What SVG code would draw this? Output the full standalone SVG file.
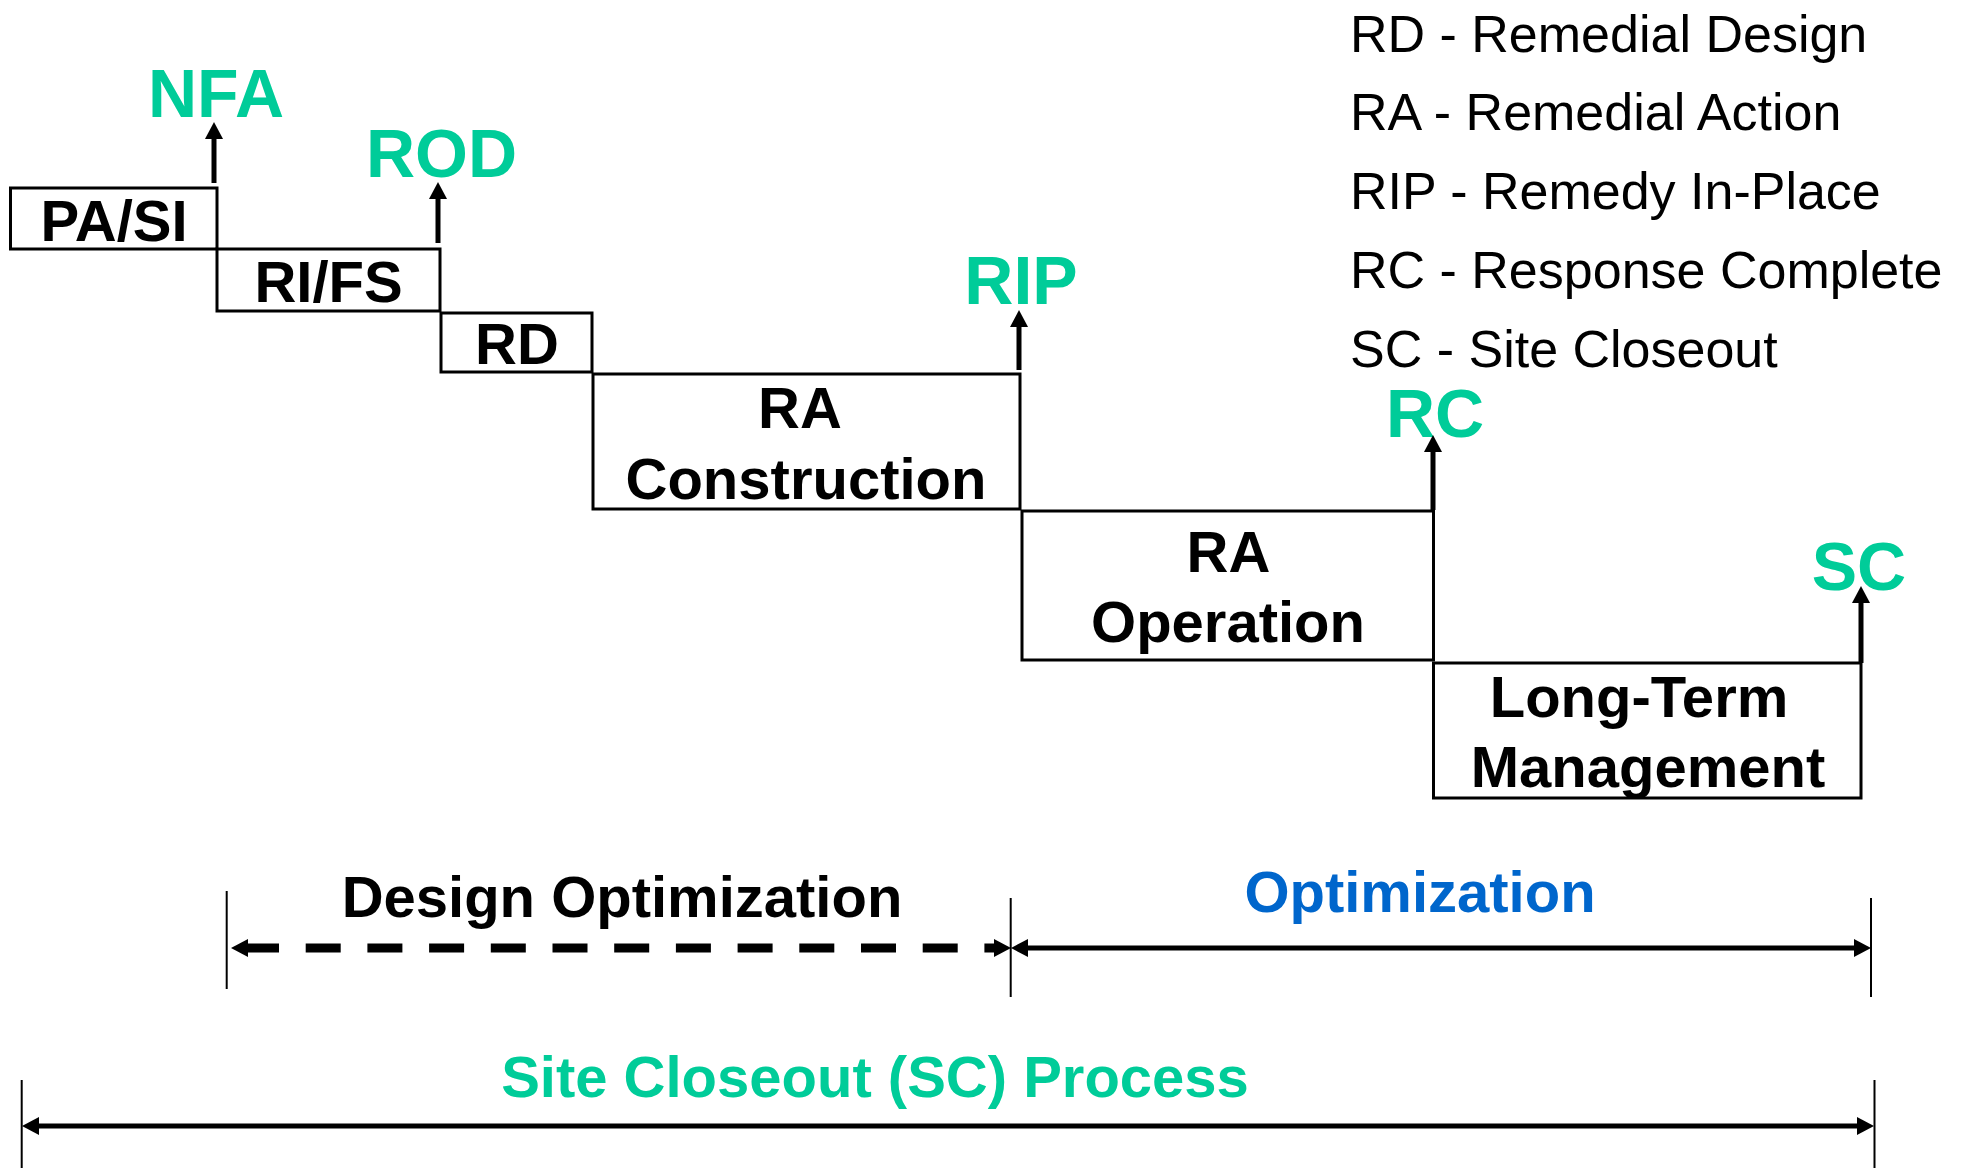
<svg xmlns="http://www.w3.org/2000/svg" width="1969" height="1168" viewBox="0 0 1969 1168">
<style>
.box{fill:#ffffff;stroke:#000000;stroke-width:3}
.lbl{font-family:"Liberation Sans",Arial,sans-serif;font-weight:bold;font-size:58px;fill:#000000;text-anchor:middle}
.ms{font-family:"Liberation Sans",Arial,sans-serif;font-weight:bold;font-size:68px;fill:#00CC99;text-anchor:middle}
.leg{font-family:"Liberation Sans",Arial,sans-serif;font-size:52px;fill:#000000}
.arr{fill:none;stroke:#000000;stroke-width:5}
.tick{fill:none;stroke:#000000;stroke-width:2}
</style>
<defs>
<marker id="ah" markerUnits="userSpaceOnUse" viewBox="0 0 17 18" markerWidth="17" markerHeight="18" refX="0" refY="9" orient="auto-start-reverse">
<path d="M0,0 L17,9 L0,18 z" fill="#000000"/>
</marker>
</defs>
<rect width="1969" height="1168" fill="#ffffff"/>

<g id="legend">
<text class="leg" x="1350" y="52">RD - Remedial Design</text>
<text class="leg" x="1350" y="130">RA - Remedial Action</text>
<text class="leg" x="1350" y="209">RIP - Remedy In-Place</text>
<text class="leg" x="1350" y="288">RC - Response Complete</text>
<text class="leg" x="1350" y="367">SC - Site Closeout</text>
</g>

<g id="node-pasi">
<rect class="box" x="10.5" y="188" width="206.5" height="61"/>
<text class="lbl" x="114" y="241">PA/SI</text>
</g>
<g id="node-rifs">
<rect class="box" x="217" y="249" width="223" height="62"/>
<text class="lbl" x="328.5" y="302">RI/FS</text>
</g>
<g id="node-rd">
<rect class="box" x="441" y="313" width="151" height="59"/>
<text class="lbl" x="517" y="364">RD</text>
</g>
<g id="node-ra-construction">
<rect class="box" x="593" y="374" width="427" height="135"/>
<text class="lbl" x="800" y="428">RA</text>
<text class="lbl" x="806" y="499" textLength="361" lengthAdjust="spacingAndGlyphs">Construction</text>
</g>
<g id="node-ra-operation">
<rect class="box" x="1022" y="511" width="411.5" height="149"/>
<text class="lbl" x="1228.5" y="572">RA</text>
<text class="lbl" x="1228" y="642">Operation</text>
</g>
<g id="node-ltm">
<rect class="box" x="1433.5" y="663" width="427.5" height="135"/>
<text class="lbl" x="1639" y="717">Long-Term</text>
<text class="lbl" x="1648" y="787">Management</text>
</g>

<g id="milestone-nfa"><text class="ms" x="216" y="117">NFA</text></g>
<g id="milestone-rod"><text class="ms" x="441.5" y="177">ROD</text></g>
<g id="milestone-rip"><text class="ms" x="1021" y="304">RIP</text></g>
<g id="milestone-rc"><text class="ms" x="1435" y="437">RC</text></g>
<g id="milestone-sc"><text class="ms" x="1859" y="590">SC</text></g>

<g id="labels-bottom">
<text class="lbl" x="622" y="917">Design Optimization</text>
<text class="lbl" x="1420" y="912" style="fill:#0066CC">Optimization</text>
<text class="lbl" x="875" y="1097" style="fill:#00CC99">Site Closeout (SC) Process</text>
</g>

<g id="connectors">
<path class="arr" d="M214,183 L214,139" marker-end="url(#ah)"/>
<path class="arr" d="M438,243 L438,199" marker-end="url(#ah)"/>
<path class="arr" d="M1019,370 L1019,327" marker-end="url(#ah)"/>
<path class="arr" d="M1433,510 L1433,452" marker-end="url(#ah)"/>
<path class="arr" d="M1861,663 L1861,603" marker-end="url(#ah)"/>

<line class="tick" x1="226.7" y1="891" x2="226.7" y2="989"/>
<line class="tick" x1="1010.7" y1="898" x2="1010.7" y2="997"/>
<line class="tick" x1="1871" y1="898" x2="1871" y2="997"/>
<line class="tick" x1="21.7" y1="1080" x2="21.7" y2="1168"/>
<line class="tick" x1="1874.5" y1="1080" x2="1874.5" y2="1168"/>

<path d="M248,948 L994,948" fill="none" stroke="#000000" stroke-width="9" stroke-dasharray="35 26.7" stroke-dashoffset="4" marker-start="url(#ah)" marker-end="url(#ah)"/>
<path class="arr" d="M1028,948 L1854,948" marker-start="url(#ah)" marker-end="url(#ah)"/>
<path class="arr" d="M39,1126 L1857,1126" marker-start="url(#ah)" marker-end="url(#ah)"/>
</g>
</svg>
